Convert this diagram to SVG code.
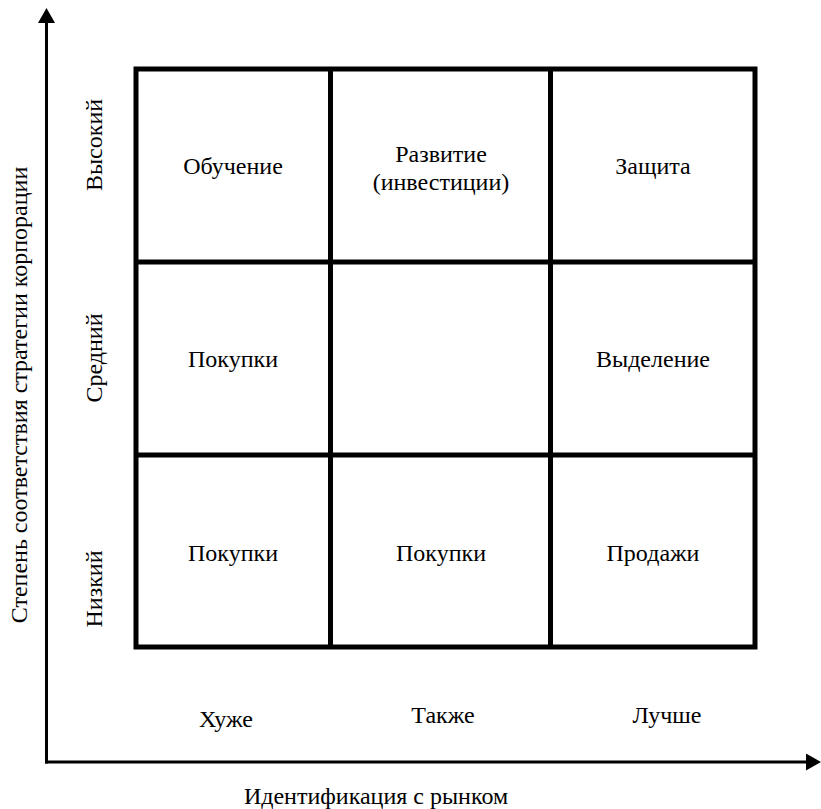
<svg xmlns="http://www.w3.org/2000/svg" width="821" height="809" viewBox="0 0 821 809">
  <style>
    text { font-family: 'Liberation Serif', 'Times New Roman', serif; font-size: 24px; fill: #000; }
    .c { text-anchor: middle; }
    .grid { fill: none; stroke: #000; stroke-width: 5; }
    .axis { fill: none; stroke: #000; stroke-width: 3; }
  </style>
  <defs>
    <marker id="arrow" markerUnits="userSpaceOnUse" markerWidth="16" markerHeight="18" refX="0" refY="8.5" orient="auto">
      <path d="M0,0 L15,8.5 L0,17 z" fill="#000"/>
    </marker>
  </defs>
  <rect width="821" height="809" fill="#fff"/>

  <!-- axes -->
  <g id="connectors">
    <path class="axis" d="M46.5,763.5 L46.5,23" marker-end="url(#arrow)"/>
    <path class="axis" d="M45,762 L806,762" marker-end="url(#arrow)"/>
  </g>

  <!-- 3x3 matrix frame -->
  <g id="matrix">
    <rect class="grid" x="136" y="69" width="619" height="578"/>
    <line class="grid" x1="330.5" y1="69" x2="330.5" y2="647"/>
    <line class="grid" x1="550.5" y1="69" x2="550.5" y2="647"/>
    <line class="grid" x1="136" y1="262" x2="755" y2="262"/>
    <line class="grid" x1="136" y1="455" x2="755" y2="455"/>
  </g>

  <!-- cells -->
  <g id="cell-learning"><text class="c" x="233" y="174">Обучение</text></g>
  <g id="cell-development"><text class="c" x="441" y="162">Развитие</text><text class="c" x="441" y="190">(инвестиции)</text></g>
  <g id="cell-defense"><text class="c" x="653" y="174">Защита</text></g>
  <g id="cell-purchases-mid"><text class="c" x="233" y="367">Покупки</text></g>
  <g id="cell-spin-off"><text class="c" x="653" y="367">Выделение</text></g>
  <g id="cell-purchases-low-1"><text class="c" x="233" y="561">Покупки</text></g>
  <g id="cell-purchases-low-2"><text class="c" x="441" y="561">Покупки</text></g>
  <g id="cell-sales"><text class="c" x="653" y="561">Продажи</text></g>

  <!-- row labels -->
  <g id="row-high"><text class="c" transform="translate(102,145) rotate(-90)">Высокий</text></g>
  <g id="row-mid"><text class="c" transform="translate(102,358) rotate(-90)">Средний</text></g>
  <g id="row-low"><text class="c" transform="translate(102,589) rotate(-90)">Низкий</text></g>

  <!-- column labels -->
  <g id="col-worse"><text class="c" x="226" y="727">Хуже</text></g>
  <g id="col-same"><text class="c" x="443" y="723">Также</text></g>
  <g id="col-better"><text class="c" x="667" y="723">Лучше</text></g>

  <!-- axis titles -->
  <g id="axis-y-title"><text class="c" transform="translate(27,395) rotate(-90)">Степень соответствия стратегии корпорации</text></g>
  <g id="axis-x-title"><text class="c" x="376" y="804">Идентификация с рынком</text></g>
</svg>
